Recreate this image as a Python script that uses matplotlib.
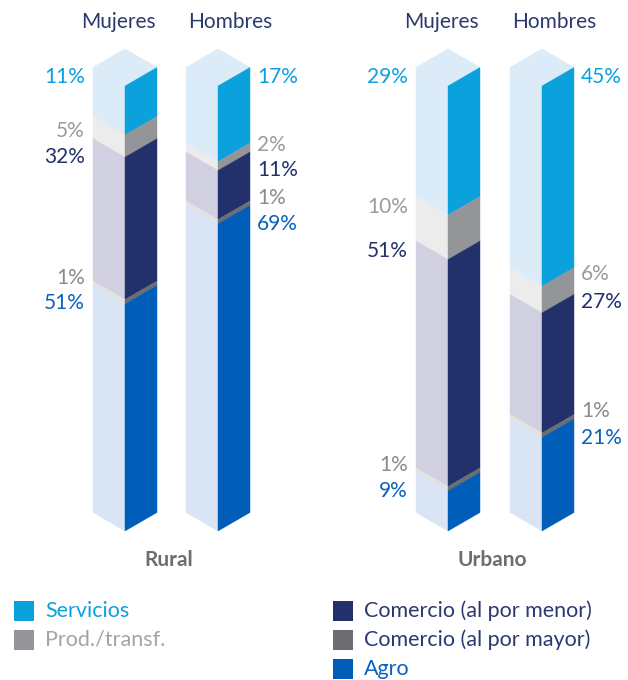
import matplotlib.pyplot as plt
from matplotlib.patches import Polygon, Rectangle

plt.rcParams['font.family'] = ['Lato', 'DejaVu Sans']

# Sectores, de arriba abajo en cada columna
sectores = ['Servicios', 'Prod./transf.', 'Comercio (al por menor)',
            'Comercio (al por mayor)', 'Agro']

# Participación (%) por columna
rural_mujeres = [11, 5, 32, 1, 51]
rural_hombres = [17, 2, 11, 1, 69]
urbano_mujeres = [29, 10, 51, 1, 9]
urbano_hombres = [45, 6, 27, 1, 21]

columnas = [rural_mujeres, rural_hombres, urbano_mujeres, urbano_hombres]
grupos = ['Rural', 'Urbano']
generos = ['Mujeres', 'Hombres']

# colores: cara derecha (fuerte), cara izquierda (clara), texto
cara_der = ['#0aa1dd', '#939598', '#22316b', '#6d6e71', '#005eb8']
cara_izq = ['#dcebf8', '#ececec', '#d1d0e0', '#e2e2e2', '#d9e5f5']
col_txt = ['#0aa1dd', '#9a9b9e', '#22316b', '#8a8b8e', '#0a62bd']
col_leyenda_txt = ['#0aa1dd', '#a3a4a7', '#2b3a6e', '#2b3a6e', '#0a62bd']

# geometría (px): arista frontal de cada prisma
xc = [125, 218, 448, 542]
dx = 32
px_top, px_bot = 86, 531
esc = (px_bot - px_top) / 100.0      # px por punto porcentual
r = 18.5 / esc                        # subida isométrica en %
lado = ['izq', 'der', 'izq', 'der']
# ajuste vertical de etiquetas (px) respecto al inicio de cada tramo
ajuste = [[-9, -4, 0, -22, -1],
          [-9, -17, -1, -22, 0],
          [-9, -8, -9, -22, 0],
          [-9, -12, -11, -22, 0]]
desp_genero = [-7, 12]

W, H = 628, 680
fig = plt.figure(figsize=(W / 100, H / 100), dpi=100)
ax = fig.add_axes([0, 0, 1, 1])
ax.set_xlim(0, W)
ax.set_ylim((H - px_top) / esc, -px_top / esc)
ax.axis('off')

for i, vals in enumerate(columnas):
    x = xc[i]
    # cara superior
    ax.add_patch(Polygon([(x - dx, -r), (x, -2 * r), (x + dx, -r), (x, 0)],
                         closed=True, fc=cara_izq[0], ec=cara_izq[0], lw=0.5))
    a = 0
    for k, v in enumerate(vals):
        b = a + v
        ax.add_patch(Polygon([(x - dx, a - r), (x, a), (x, b), (x - dx, b - r)],
                             closed=True, fc=cara_izq[k], ec=cara_izq[k], lw=0.3))
        ax.add_patch(Polygon([(x, a), (x + dx, a - r), (x + dx, b - r), (x, b)],
                             closed=True, fc=cara_der[k], ec=cara_der[k], lw=0.3))
        ty = a + ajuste[i][k] / esc
        if lado[i] == 'izq':
            ax.text(x - dx - 8, ty, f'{v}%', ha='right', va='center',
                    fontsize=15, color=col_txt[k])
        else:
            ax.text(x + dx + 7, ty, f'{v}%', ha='left', va='center',
                    fontsize=15, color=col_txt[k])
        a = b
    ax.text(x + desp_genero[i % 2], -64 / esc, generos[i % 2], ha='center',
            va='center', fontsize=15, color='#2b3a6e')

for g, nombre in enumerate(grupos):
    xm = (xc[2 * g] + xc[2 * g + 1]) / 2 - 3
    ax.text(xm, (560 - px_top) / esc, nombre, ha='center', va='center',
            fontsize=15, fontweight='bold', color='#6d6e71')

# leyenda
pos_ley = [(14, 611), (14, 640), (333, 611), (333, 640), (333, 669)]
for k, nombre in enumerate(sectores):
    lx, ly = pos_ley[k]
    y0 = (ly - px_top) / esc
    ax.add_patch(Rectangle((lx, y0 - 10 / esc), 20, 20 / esc,
                           fc=cara_der[k], ec='none'))
    ax.text(lx + 31, y0, nombre, ha='left', va='center', fontsize=15.5,
            color=col_leyenda_txt[k])

fig.savefig('out.png', dpi=100)
